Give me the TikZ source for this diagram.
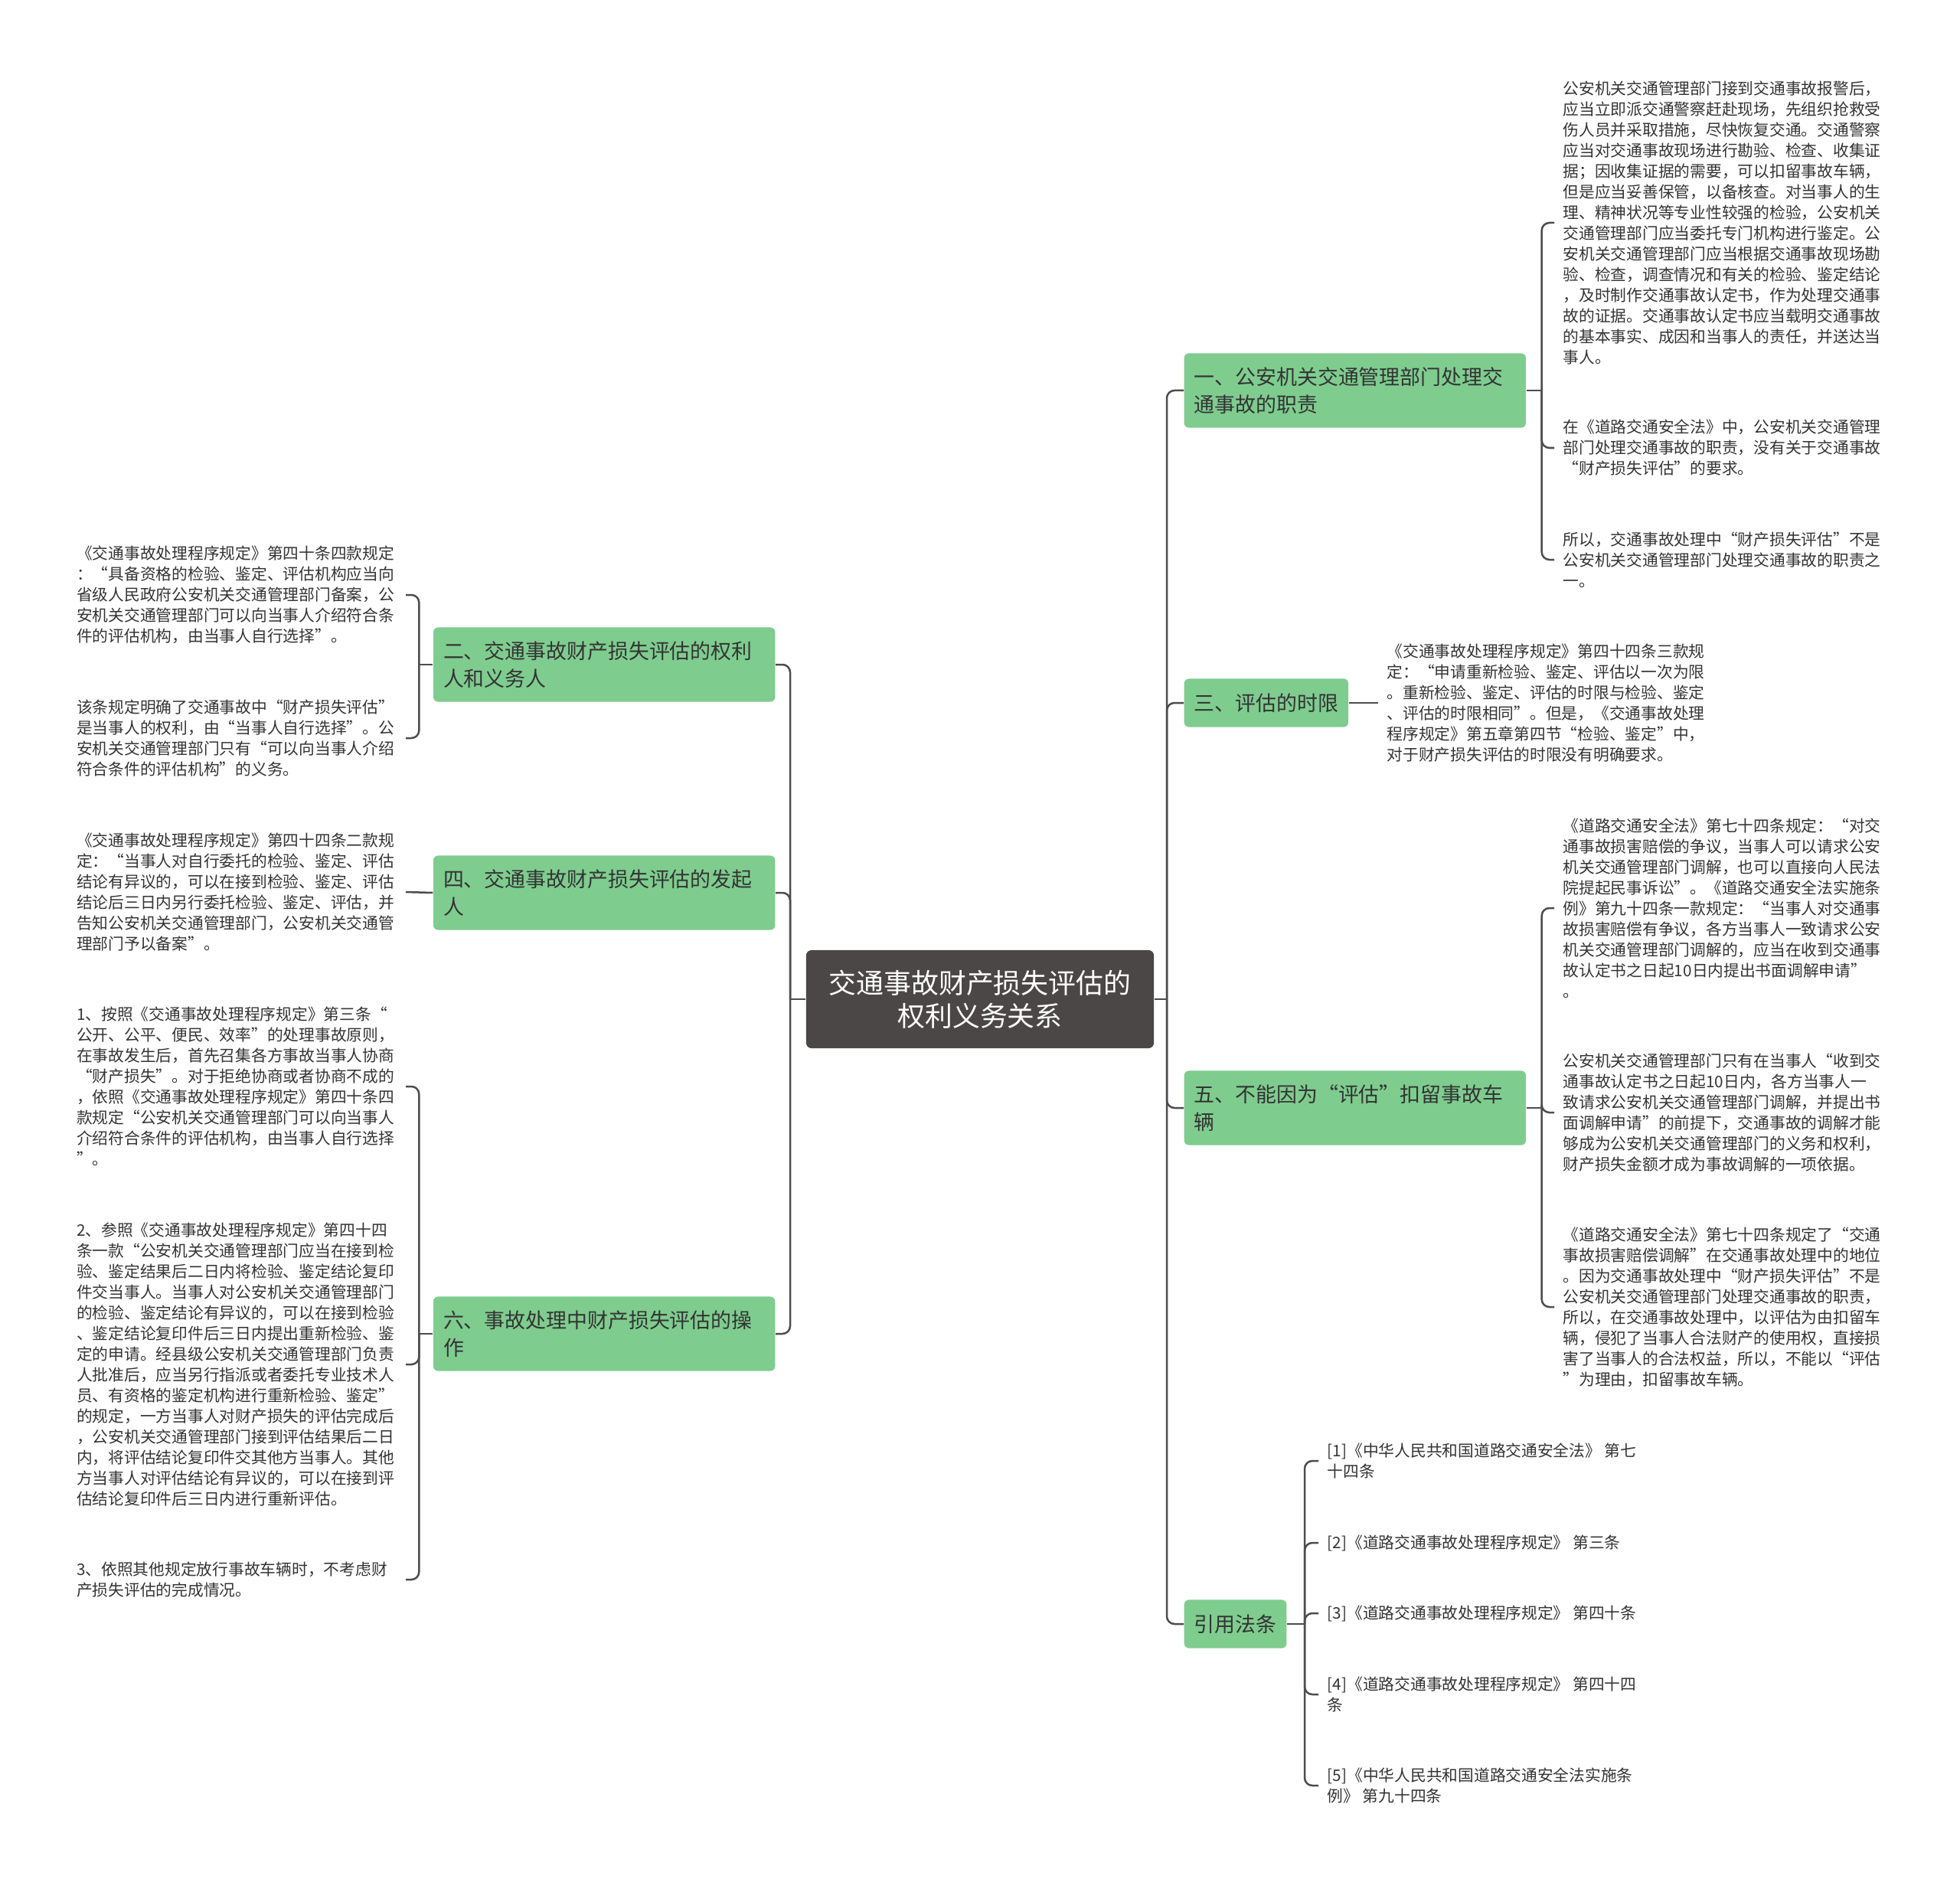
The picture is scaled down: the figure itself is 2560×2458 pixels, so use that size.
\documentclass[tikz,border=0pt]{standalone}
\usepackage{fontspec}
\setmainfont{Noto Sans CJK SC}
\usepackage{tikz}
\usetikzlibrary{positioning}
\definecolor{topicgreen}{HTML}{7FCC8F}
\definecolor{rootgray}{HTML}{4B4747}
\definecolor{linegray}{HTML}{4D4D4D}
\definecolor{textgray}{HTML}{333333}

\begin{document}
\begin{tikzpicture}[x=0.01cm,y=-0.01cm,
root/.style={fill=rootgray,rounded corners=0.07cm,text=white,align=center,minimum width=4.54cm,minimum height=1.28cm,font=\fontsize{10.2pt}{12.3pt}\selectfont},
topic/.style={fill=topicgreen,rounded corners=0.06cm,text=textgray,align=left,inner xsep=0.13cm,minimum height=0.63cm,font=\fontsize{7.65pt}{10.2pt}\selectfont},
wide/.style={text width=4.2cm,minimum height=0.97cm},
leaf/.style={text=textgray,align=left,inner xsep=0.11cm,inner ysep=0pt,font=\fontsize{5.9pt}{7.68pt}\selectfont},
lleaf/.style={leaf,text width=4.18cm,anchor=east},
link/.style={draw=linegray,line width=0.025cm,rounded corners=0.1cm}
]
\useasboundingbox (0,0) rectangle (2560,2458);

\node[root] (root) at (1280,1305) {交通事故财产损失评估的\\权利义务关系};

% right side
\node[topic,wide,anchor=west] (duty) at (1546,510) {一、公安机关交通管理部门处理交\\通事故的职责};
\node[topic,anchor=west] (limit) at (1546,918) {三、评估的时限};
\node[topic,wide,anchor=west] (detain) at (1546,1447) {五、不能因为“评估”扣留事故车\\辆};
\node[topic,anchor=west] (laws) at (1546,2121) {引用法条};

% left side
\node[topic,wide,anchor=east] (parties) at (1013,868) {二、交通事故财产损失评估的权利\\人和义务人};
\node[topic,wide,anchor=east] (starter) at (1013,1166) {四、交通事故财产损失评估的发起\\人};
\node[topic,wide,anchor=east] (operate) at (1013,1742) {六、事故处理中财产损失评估的操\\作};

\node[leaf,anchor=west] (duty1) at (2030,291) {公安机关交通管理部门接到交通事故报警后，\\
应当立即派交通警察赶赴现场，先组织抢救受\\
伤人员并采取措施，尽快恢复交通。交通警察\\
应当对交通事故现场进行勘验、检查、收集证\\
据；因收集证据的需要，可以扣留事故车辆，\\
但是应当妥善保管，以备核查。对当事人的生\\
理、精神状况等专业性较强的检验，公安机关\\
交通管理部门应当委托专门机构进行鉴定。公\\
安机关交通管理部门应当根据交通事故现场勘\\
验、检查，调查情况和有关的检验、鉴定结论\\
，及时制作交通事故认定书，作为处理交通事\\
故的证据。交通事故认定书应当载明交通事故\\
的基本事实、成因和当事人的责任，并送达当\\
事人。};
\node[leaf,anchor=west] (duty2) at (2030,585) {在《道路交通安全法》中，公安机关交通管理\\
部门处理交通事故的职责，没有关于交通事故\\
“财产损失评估”的要求。};
\node[leaf,anchor=west] (duty3) at (2030,731) {所以，交通事故处理中“财产损失评估”不是\\
公安机关交通管理部门处理交通事故的职责之\\
一。};

\node[leaf,anchor=west] (limit1) at (1800,918) {《交通事故处理程序规定》第四十四条三款规\\
定：“申请重新检验、鉴定、评估以一次为限\\
。重新检验、鉴定、评估的时限与检验、鉴定\\
、评估的时限相同”。但是，《交通事故处理\\
程序规定》第五章第四节“检验、鉴定”中，\\
对于财产损失评估的时限没有明确要求。};

\node[leaf,anchor=west] (detain1) at (2030,1186) {《道路交通安全法》第七十四条规定：“对交\\
通事故损害赔偿的争议，当事人可以请求公安\\
机关交通管理部门调解，也可以直接向人民法\\
院提起民事诉讼”。《道路交通安全法实施条\\
例》第九十四条一款规定：“当事人对交通事\\
故损害赔偿有争议，各方当事人一致请求公安\\
机关交通管理部门调解的，应当在收到交通事\\
故认定书之日起10日内提出书面调解申请”\\
。};
\node[leaf,anchor=west] (detain2) at (2030,1453) {公安机关交通管理部门只有在当事人“收到交\\
通事故认定书之日起10日内，各方当事人一\\
致请求公安机关交通管理部门调解，并提出书\\
面调解申请”的前提下，交通事故的调解才能\\
够成为公安机关交通管理部门的义务和权利，\\
财产损失金额才成为事故调解的一项依据。};
\node[leaf,anchor=west] (detain3) at (2030,1707) {《道路交通安全法》第七十四条规定了“交通\\
事故损害赔偿调解”在交通事故处理中的地位\\
。因为交通事故处理中“财产损失评估”不是\\
公安机关交通管理部门处理交通事故的职责，\\
所以，在交通事故处理中，以评估为由扣留车\\
辆，侵犯了当事人合法财产的使用权，直接损\\
害了当事人的合法权益，所以，不能以“评估\\
”为理由，扣留事故车辆。};

\node[leaf,anchor=west] (law1) at (1722,1908) {[1]《中华人民共和国道路交通安全法》 第七\\十四条};
\node[leaf,anchor=west] (law2) at (1722,2015) {[2]《道路交通事故处理程序规定》 第三条};
\node[leaf,anchor=west] (law3) at (1722,2107) {[3]《道路交通事故处理程序规定》 第四十条};
\node[leaf,anchor=west] (law4) at (1722,2213) {[4]《道路交通事故处理程序规定》 第四十四\\条};
\node[leaf,anchor=west] (law5) at (1722,2332) {[5]《中华人民共和国道路交通安全法实施条\\例》 第九十四条};

\node[lleaf] (parties1) at (530,777) {《交通事故处理程序规定》第四十条四款规定\\
：“具备资格的检验、鉴定、评估机构应当向\\
省级人民政府公安机关交通管理部门备案，公\\
安机关交通管理部门可以向当事人介绍符合条\\
件的评估机构，由当事人自行选择”。};
\node[lleaf] (parties2) at (530,964) {该条规定明确了交通事故中“财产损失评估”\\
是当事人的权利，由“当事人自行选择”。公\\
安机关交通管理部门只有“可以向当事人介绍\\
符合条件的评估机构”的义务。};

\node[lleaf] (starter1) at (530,1165) {《交通事故处理程序规定》第四十四条二款规\\
定：“当事人对自行委托的检验、鉴定、评估\\
结论有异议的，可以在接到检验、鉴定、评估\\
结论后三日内另行委托检验、鉴定、评估，并\\
告知公安机关交通管理部门，公安机关交通管\\
理部门予以备案”。};

\node[lleaf] (operate1) at (530,1419) {1、按照《交通事故处理程序规定》第三条“\\
公开、公平、便民、效率”的处理事故原则，\\
在事故发生后，首先召集各方事故当事人协商\\
“财产损失”。对于拒绝协商或者协商不成的\\
，依照《交通事故处理程序规定》第四十条四\\
款规定“公安机关交通管理部门可以向当事人\\
介绍符合条件的评估机构，由当事人自行选择\\
”。};
\node[lleaf] (operate2) at (530,1782) {2、参照《交通事故处理程序规定》第四十四\\
条一款“公安机关交通管理部门应当在接到检\\
验、鉴定结果后二日内将检验、鉴定结论复印\\
件交当事人。当事人对公安机关交通管理部门\\
的检验、鉴定结论有异议的，可以在接到检验\\
、鉴定结论复印件后三日内提出重新检验、鉴\\
定的申请。经县级公安机关交通管理部门负责\\
人批准后，应当另行指派或者委托专业技术人\\
员、有资格的鉴定机构进行重新检验、鉴定”\\
的规定，一方当事人对财产损失的评估完成后\\
，公安机关交通管理部门接到评估结果后二日\\
内，将评估结论复印件交其他方当事人。其他\\
方当事人对评估结论有异议的，可以在接到评\\
估结论复印件后三日内进行重新评估。};
\node[lleaf] (operate3) at (530,2063) {3、依照其他规定放行事故车辆时，不考虑财\\
产损失评估的完成情况。};

% root to topics
\coordinate (rj) at (1524,1305);
\coordinate (lj) at (1032,1305);
\draw[link] (root.east) -- (rj);
\foreach \n in {duty,limit,detain,laws}
  \draw[link] (rj) |- (\n.west);
\draw[link] (root.west) -- (lj);
\foreach \n in {parties,starter,operate}
  \draw[link] (lj) |- (\n.east);

% topics to leaves
\draw[link] (duty.east) -- ++(0.2cm,0) coordinate (dutyj);
\foreach \n in {duty1,duty2,duty3}
  \draw[link] (dutyj) |- (\n.west);
\draw[link] (limit.east) -- (limit1.west);
\draw[link] (detain.east) -- ++(0.2cm,0) coordinate (detainj);
\foreach \n in {detain1,detain2,detain3}
  \draw[link] (detainj) |- (\n.west);
\draw[link] (laws.east) -- ++(0.23cm,0) coordinate (lawsj);
\foreach \n in {law1,law2,law3,law4,law5}
  \draw[link] (lawsj) |- (\n.west);
\draw[link] (parties.west) -- ++(-0.18cm,0) coordinate (partiesj);
\foreach \n in {parties1,parties2}
  \draw[link] (partiesj) |- (\n.east);
\draw[link] (starter.west) -- (starter1.east);
\draw[link] (operate.west) -- ++(-0.18cm,0) coordinate (operatej);
\foreach \n in {operate1,operate2,operate3}
  \draw[link] (operatej) |- (\n.east);
\end{tikzpicture}
\end{document}
